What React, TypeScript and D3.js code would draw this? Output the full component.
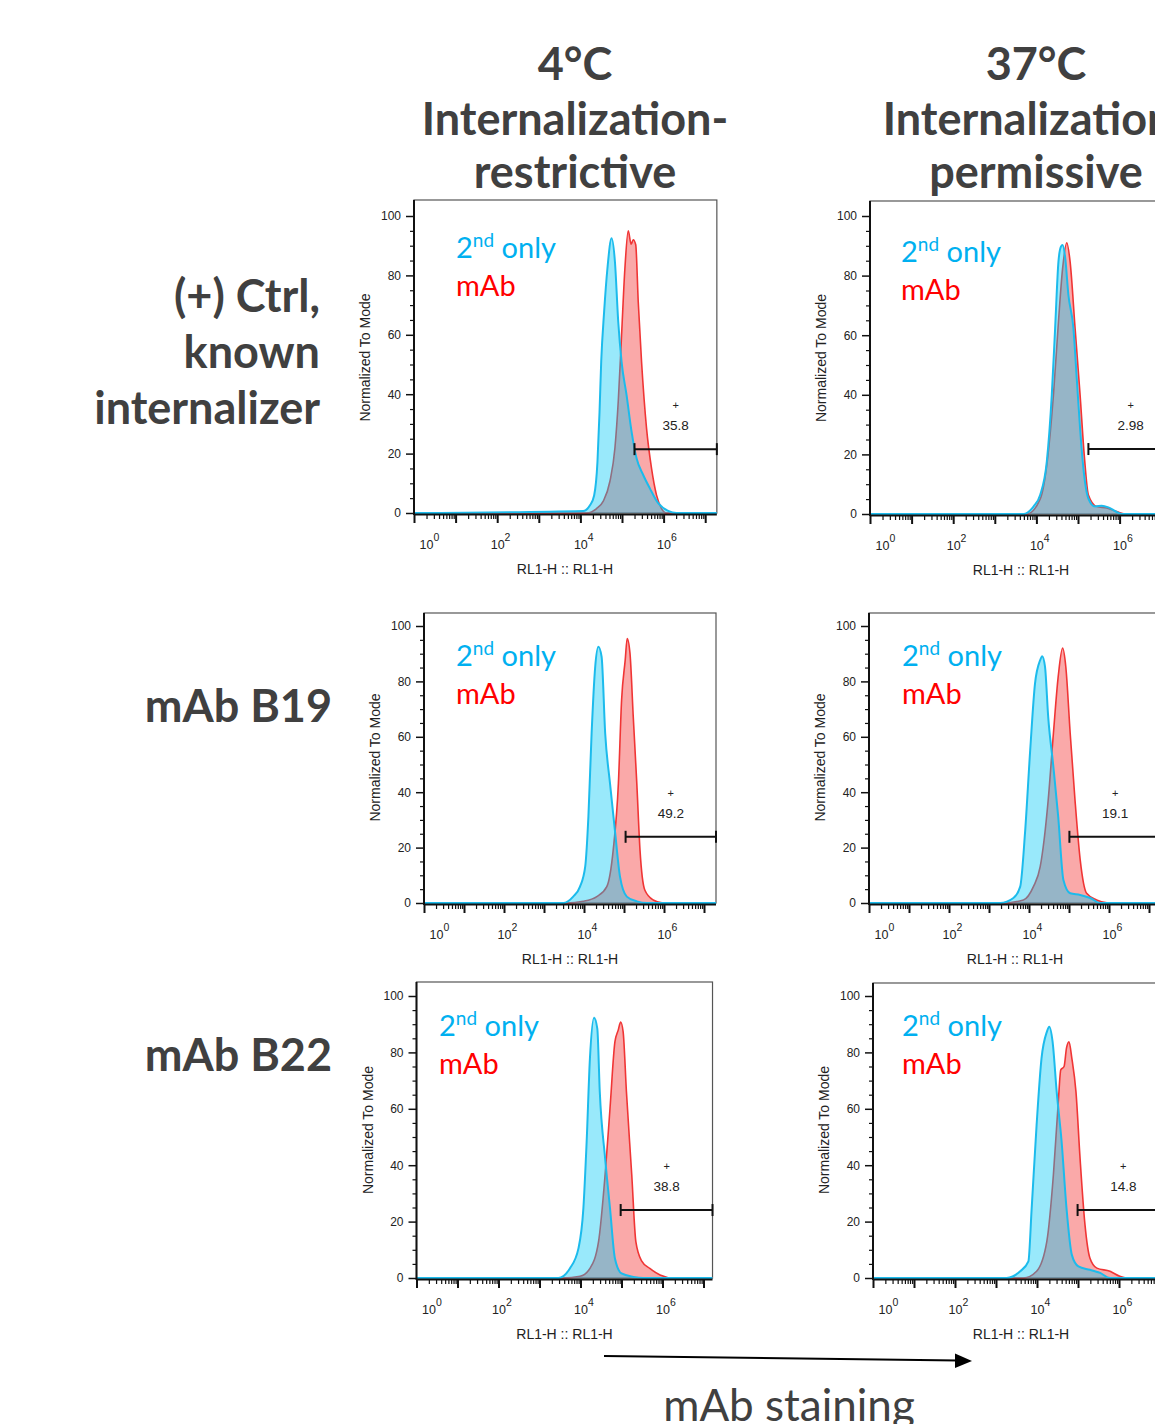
import * as d3 from "d3";
import { useEffect, useRef } from "react";

// headers
const columnTitles = [
  ["4°C", "Internalization-", "restrictive"],
  ["37°C", "Internalization-", "permissive"],
];
const rowTitles = [["(+) Ctrl,", "known", "internalizer"], ["mAb B19"], ["mAb B22"]];

// traces: [log10(RL1-H), % of mode]
const ctrl4Second = [[0, 0], [4.07, 0.7], [4.23, 2.6], [4.33, 5.9], [4.41, 17.2], [4.46, 34.1], [4.5, 50.9], [4.57, 67.7], [4.65, 82.4], [4.75, 92.5], [4.83, 84.6], [4.91, 64.3], [4.99, 50.9], [5.11, 39.7], [5.23, 27.4], [5.35, 18.4], [5.51, 12.8], [5.67, 8.3], [5.87, 3.3], [6.11, 0.7], [6.31, 0], [7.3, 0]];
const ctrl4Mab = [[0, 0], [4.15, 0], [4.39, 1.5], [4.55, 4.0], [4.71, 10.7], [4.83, 21.9], [4.91, 37.6], [4.99, 60], [5.07, 82.4], [5.15, 95], [5.22, 90.5], [5.27, 92], [5.33, 90.3], [5.39, 71.2], [5.47, 50.9], [5.59, 28.5], [5.71, 15], [5.83, 6], [5.95, 1.5], [6.07, 0], [7.3, 0]];
const ctrl37Second = [[0, 0], [3.69, 0], [3.93, 2.5], [4.09, 6.4], [4.25, 17.6], [4.37, 40], [4.45, 62.3], [4.53, 84.7], [4.59, 89.7], [4.63, 90.3], [4.69, 86.3], [4.77, 73.4], [4.89, 62.3], [4.97, 45.5], [5.05, 28.7], [5.13, 15.3], [5.25, 5.2], [5.41, 2.5], [5.57, 2.8], [5.73, 2.2], [5.89, 1], [6.05, 0], [7.3, 0]];
const ctrl37Mab = [[0, 0], [3.77, 0], [4.09, 5], [4.26, 17.6], [4.41, 40], [4.53, 64.5], [4.63, 82.4], [4.73, 91], [4.81, 84.7], [4.93, 62.3], [5.05, 40], [5.15, 19.8], [5.25, 6.4], [5.45, 2.5], [5.69, 2], [5.93, 0.8], [6.13, 0], [7.3, 0]];
const b19ColdSecond = [[0, 0], [3.48, 0], [3.73, 2.3], [3.9, 5.9], [4.03, 13.1], [4.11, 31.2], [4.19, 61.2], [4.28, 85.3], [4.36, 92.5], [4.44, 88.9], [4.53, 61.2], [4.65, 43.2], [4.78, 25.2], [4.9, 9.5], [5.07, 2.3], [5.32, 0.6], [5.57, 0], [7.3, 0]];
const b19ColdMab = [[0, 0], [3.57, 0], [3.98, 0.6], [4.32, 2.3], [4.57, 5.9], [4.73, 19.1], [4.86, 43.2], [4.94, 73.3], [5.03, 87.7], [5.08, 95.5], [5.15, 90.1], [5.23, 67.6], [5.32, 43.2], [5.4, 19.1], [5.52, 4.7], [5.73, 1.1], [5.98, 0], [7.3, 0]];
const b19WarmSecond = [[0, 0], [3.28, 0], [3.61, 1.8], [3.78, 5.9], [3.9, 25.2], [4.03, 55.2], [4.15, 79.2], [4.28, 87.7], [4.33, 89.1], [4.4, 85.3], [4.48, 67.2], [4.61, 49.1], [4.73, 31.2], [4.86, 8.3], [5.03, 3.5], [5.28, 2.9], [5.53, 1.8], [5.78, 0], [7.3, 0]];
const b19WarmMab = [[0, 0], [3.36, 0], [3.86, 1.1], [4.11, 5.9], [4.28, 13.1], [4.48, 37.2], [4.61, 61.2], [4.73, 81.7], [4.84, 92], [4.92, 85.3], [5.03, 61.2], [5.15, 37.2], [5.28, 15.6], [5.44, 3.5], [5.69, 1.1], [5.98, 0], [7.3, 0]];
const b22ColdSecond = [[0, 0], [3.46, 0], [3.74, 3.4], [3.95, 10.5], [4.07, 24.7], [4.15, 48.4], [4.23, 77.9], [4.33, 92.3], [4.41, 88.4], [4.47, 66.1], [4.6, 42.5], [4.72, 24.7], [4.84, 6.9], [5.0, 1.6], [5.29, 0.4], [5.53, 0], [7.3, 0]];
const b22ColdMab = [[0, 0], [3.58, 0], [3.99, 0.6], [4.23, 3.4], [4.44, 12.9], [4.6, 36.6], [4.72, 60.2], [4.84, 83.8], [4.92, 87.9], [4.98, 90.8], [5.04, 87.3], [5.12, 66.1], [5.25, 36.6], [5.35, 12.9], [5.49, 6.1], [5.69, 3.4], [5.94, 1.1], [6.26, 0], [7.3, 0]];
const b22WarmSecond = [[0, 0], [3.26, 0], [3.59, 2.4], [3.79, 5.9], [3.87, 24.7], [3.99, 54.2], [4.11, 77.9], [4.24, 87.3], [4.3, 89.1], [4.38, 83.8], [4.48, 66.1], [4.6, 48.4], [4.72, 24.7], [4.85, 8.2], [5.01, 4.1], [5.29, 2.9], [5.54, 1.8], [5.78, 0], [7.3, 0]];
const b22WarmMab = [[0, 0], [3.67, 0], [3.99, 2.4], [4.24, 13], [4.4, 36.6], [4.52, 62.6], [4.58, 73.8], [4.66, 75], [4.72, 81.6], [4.78, 83.8], [4.85, 77.9], [4.95, 66.1], [5.05, 42.5], [5.17, 18.9], [5.29, 7.1], [5.46, 3.5], [5.78, 2.4], [6.02, 0.6], [6.18, 0], [7.3, 0]];

// row-major: ctrl 4°C, ctrl 37°C, B19 4°C, B19 37°C, B22 4°C, B22 37°C
const secondOnly = [ctrl4Second, ctrl37Second, b19ColdSecond, b19WarmSecond, b22ColdSecond, b22WarmSecond];
const mabStained = [ctrl4Mab, ctrl37Mab, b19ColdMab, b19WarmMab, b22ColdMab, b22WarmMab];
const gateStart = [5.3, 5.25, 5.04, 5.01, 4.98, 4.99];
const gateLevel = [21.5, 21.8, 23.9, 23.9, 24.1, 24.1];
const gatePercent = ["35.8", "2.98", "49.2", "19.1", "38.8", "14.8"];

const yTicks = [0, 20, 40, 60, 80, 100];
const yMinorTicks = [5, 10, 15, 25, 30, 35, 45, 50, 55, 65, 70, 75, 85, 90, 95];
const xLabelExps = [0, 2, 4, 6];

// where each pasted panel sits on the page
const panelBoxes = [
  { left: 414, top: 200, y0: 513, y100: 216, xMaxExp: 7.28, decade: 41.6, legendX: 456, legendY: 258 },
  { left: 870, top: 201, y0: 514, y100: 216, xMaxExp: 7.28, decade: 41.6, legendX: 901, legendY: 262 },
  { left: 424, top: 613, y0: 903, y100: 626, xMaxExp: 7.3, decade: 40, legendX: 456, legendY: 666 },
  { left: 869, top: 613, y0: 903, y100: 626, xMaxExp: 7.3, decade: 40, legendX: 902, legendY: 666 },
  { left: 416.5, top: 982, y0: 1278, y100: 996, xMaxExp: 7.22, decade: 41, legendX: 439, legendY: 1036 },
  { left: 873, top: 983, y0: 1278, y100: 996, xMaxExp: 7.22, decade: 41, legendX: 902, legendY: 1036 },
];

const TITLE_FONT = "Lato, 'Open Sans', sans-serif";
const FLOW_FONT = "'Liberation Sans', Arial, sans-serif";
const CYAN = "#00B0F0";
const RED = "#FF0000";

const App = () => {
  const ref = useRef<SVGSVGElement>(null);

  useEffect(() => {
    const svg = d3.select(ref.current);
    svg.selectAll("*").remove();

    // column headers
    const colCenters = [575, 1036];
    const titleBase = [80, 135, 188];
    columnTitles.forEach((lines, c) => {
      lines.forEach((t, i) => {
        svg.append("text")
          .attr("x", colCenters[c]).attr("y", titleBase[i])
          .attr("text-anchor", "middle")
          .attr("font-family", TITLE_FONT).attr("font-weight", 700).attr("font-size", 45)
          .attr("fill", "#404040").text(t);
      });
    });

    // row names
    const rowRight = [320, 332, 332];
    const rowBase = [[312, 368, 424], [722], [1071]];
    rowTitles.forEach((lines, r) => {
      lines.forEach((t, i) => {
        svg.append("text")
          .attr("x", rowRight[r]).attr("y", rowBase[r][i])
          .attr("text-anchor", "end")
          .attr("font-family", TITLE_FONT).attr("font-weight", 700).attr("font-size", 45)
          .attr("fill", "#404040").text(t);
      });
    });

    panelBoxes.forEach((box, i) => {
      const right = box.left + box.xMaxExp * box.decade;
      const x = d3.scaleLog().domain([1, Math.pow(10, box.xMaxExp)]).range([box.left, right]);
      const y = d3.scaleLinear().domain([0, 100]).range([box.y0, box.y100]);
      const g = svg.append("g");

      const clipId = "clip" + i;
      svg.append("clipPath").attr("id", clipId)
        .append("rect").attr("x", box.left).attr("y", box.top)
        .attr("width", right - box.left).attr("height", box.y0 - box.top + 1);

      // frame
      g.append("rect")
        .attr("x", box.left).attr("y", box.top)
        .attr("width", right - box.left).attr("height", box.y0 - box.top)
        .attr("fill", "none").attr("stroke", "#555").attr("stroke-width", 1.2);

      const area = d3.area<number[]>()
        .x((d) => x(Math.pow(10, d[0])))
        .y0(y(0))
        .y1((d) => y(d[1]))
        .curve(d3.curveMonotoneX);
      const line = d3.line<number[]>()
        .x((d) => x(Math.pow(10, d[0])))
        .y((d) => y(d[1]))
        .curve(d3.curveMonotoneX);

      const plot = g.append("g").attr("clip-path", `url(#${clipId})`);
      plot.append("path").datum(mabStained[i]).attr("d", area).attr("fill", "rgba(242,40,40,0.4)");
      plot.append("path").datum(mabStained[i]).attr("d", line)
        .attr("fill", "none").attr("stroke", "#F03535").attr("stroke-width", 1.6);
      plot.append("path").datum(secondOnly[i]).attr("d", area).attr("fill", "rgba(0,200,245,0.4)");
      plot.append("path").datum(secondOnly[i]).attr("d", line)
        .attr("fill", "none").attr("stroke", "#1CBBEC").attr("stroke-width", 2);

      // y axis
      const yAxis = g.append("g").attr("transform", `translate(${box.left},0)`)
        .call(d3.axisLeft(y).tickValues(yTicks).tickSize(8).tickPadding(5));
      yAxis.select(".domain").remove();
      yAxis.selectAll("line").attr("stroke", "#111").attr("stroke-width", 1.5);
      yAxis.selectAll("text").attr("font-family", FLOW_FONT).attr("font-size", 12).attr("fill", "#222");
      const yMinor = g.append("g").attr("transform", `translate(${box.left},0)`)
        .call(d3.axisLeft(y).tickValues(yMinorTicks).tickSize(4).tickFormat(() => ""));
      yMinor.select(".domain").remove();
      yMinor.selectAll("line").attr("stroke", "#111").attr("stroke-width", 1.2);
      g.append("line")
        .attr("x1", box.left).attr("x2", box.left).attr("y1", box.top).attr("y2", box.y0 + 2)
        .attr("stroke", "#111").attr("stroke-width", 2);

      // x axis (log decades + minor ticks)
      const decades = d3.range(0, Math.floor(box.xMaxExp) + 1).map((e) => Math.pow(10, e));
      const minors: number[] = [];
      decades.forEach((d) => d3.range(2, 10).forEach((m) => {
        if (m * d <= Math.pow(10, box.xMaxExp)) minors.push(m * d);
      }));
      const xMajor = g.append("g").attr("transform", `translate(0,${box.y0 + 1})`)
        .call(d3.axisBottom(x).tickValues(decades).tickSize(9).tickFormat(() => ""));
      xMajor.select(".domain").remove();
      xMajor.selectAll("line").attr("stroke", "#111").attr("stroke-width", 2);
      const xMinor = g.append("g").attr("transform", `translate(0,${box.y0 + 1})`)
        .call(d3.axisBottom(x).tickValues(minors).tickSize(5).tickFormat(() => ""));
      xMinor.select(".domain").remove();
      xMinor.selectAll("line").attr("stroke", "#111").attr("stroke-width", 1.2);
      g.append("line")
        .attr("x1", box.left).attr("x2", right).attr("y1", box.y0 + 1.5).attr("y2", box.y0 + 1.5)
        .attr("stroke", "#111").attr("stroke-width", 2);

      xLabelExps.forEach((e) => {
        const cx = x(Math.pow(10, e)) + (e === 0 ? 12 : 0);
        const t = g.append("text")
          .attr("x", cx - 6.5).attr("y", box.y0 + 36)
          .attr("font-family", FLOW_FONT).attr("font-size", 12.5).attr("fill", "#222");
        t.append("tspan").text("10");
        t.append("tspan").attr("dy", -8).attr("font-size", 10.5).text(String(e));
      });

      // axis titles
      g.append("text")
        .attr("x", (box.left + Math.min(right, box.left + 302)) / 2).attr("y", box.y0 + 61)
        .attr("text-anchor", "middle")
        .attr("font-family", FLOW_FONT).attr("font-size", 14).attr("fill", "#222")
        .text("RL1-H :: RL1-H");
      const ly = (box.y0 + box.y100) / 2 - 7;
      g.append("text")
        .attr("transform", `translate(${box.left - 44},${ly}) rotate(-90)`)
        .attr("text-anchor", "middle")
        .attr("font-family", FLOW_FONT).attr("font-size", 14).attr("fill", "#222")
        .text("Normalized To Mode");

      // gate
      const gx1 = x(Math.pow(10, gateStart[i]));
      const gy = y(gateLevel[i]);
      g.append("line").attr("x1", gx1).attr("x2", right).attr("y1", gy).attr("y2", gy)
        .attr("stroke", "#111").attr("stroke-width", 2);
      [gx1, right].forEach((gx) => {
        g.append("line").attr("x1", gx).attr("x2", gx).attr("y1", gy - 6).attr("y2", gy + 6)
          .attr("stroke", "#111").attr("stroke-width", 2);
      });
      const gmid = x(Math.pow(10, (gateStart[i] + box.xMaxExp) / 2));
      g.append("text").attr("x", gmid).attr("y", gy - 40)
        .attr("text-anchor", "middle").attr("font-family", FLOW_FONT).attr("font-size", 11)
        .attr("fill", "#222").text("+");
      g.append("text").attr("x", gmid).attr("y", gy - 19)
        .attr("text-anchor", "middle").attr("font-family", FLOW_FONT).attr("font-size", 13.5)
        .attr("fill", "#222").text(gatePercent[i]);

      // legend
      const l1 = g.append("text")
        .attr("x", box.legendX).attr("y", box.legendY)
        .attr("font-family", TITLE_FONT).attr("font-size", 29).attr("fill", CYAN);
      l1.append("tspan").text("2");
      l1.append("tspan").attr("dy", -11).attr("font-size", 19).text("nd");
      l1.append("tspan").attr("dy", 11).text(" only");
      g.append("text")
        .attr("x", box.legendX).attr("y", box.legendY + 38)
        .attr("font-family", TITLE_FONT).attr("font-size", 29).attr("fill", RED).text("mAb");
    });

    // staining arrow
    svg.append("line").attr("x1", 604).attr("y1", 1356).attr("x2", 958).attr("y2", 1360.5)
      .attr("stroke", "#000").attr("stroke-width", 2);
    svg.append("path").attr("d", "M972,1361 L955,1353.5 L955,1368 Z").attr("fill", "#000");
    svg.append("text").attr("x", 789).attr("y", 1421)
      .attr("text-anchor", "middle")
      .attr("font-family", TITLE_FONT).attr("font-size", 44).attr("fill", "#404040")
      .text("mAb staining");
  }, []);

  return (
    <svg ref={ref} width={1155} height={1424}
      style={{ position: "absolute", left: 0, top: 0, background: "#fff" }} />
  );
};

export default App;
